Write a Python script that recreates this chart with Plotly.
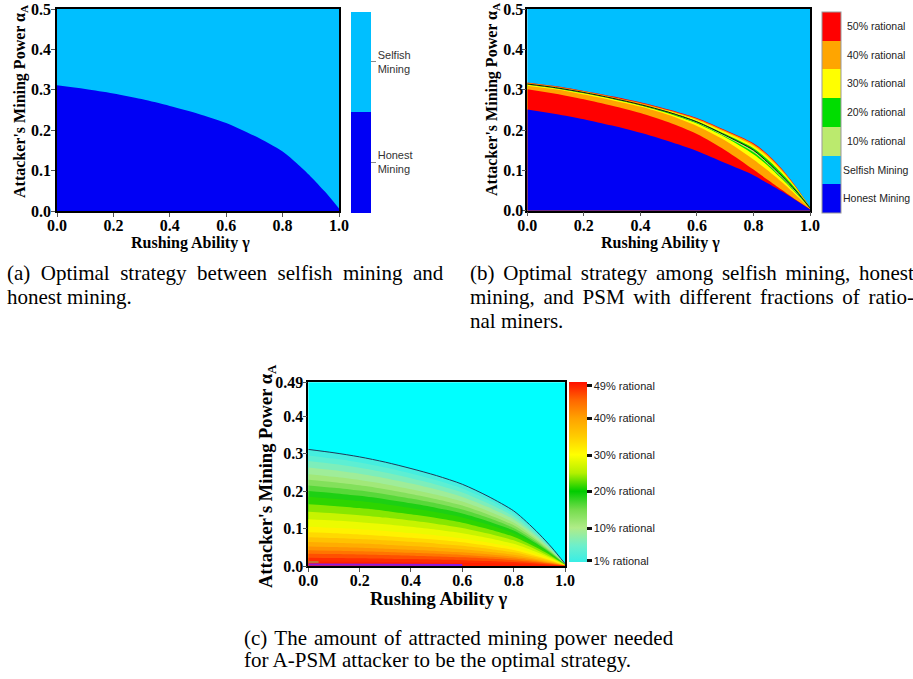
import plotly.graph_objects as go
from plotly.colors import sample_colorscale

W, H = 913, 679

# ---------------- data ----------------
gamma = [0.0, 0.1, 0.2, 0.3, 0.4, 0.5, 0.6, 0.7, 0.8, 0.85, 0.9, 0.95, 1.0]
# boundary selfish vs honest (panel a, also black line in c)
sm_boundary = [0.311, 0.302, 0.291, 0.277, 0.260, 0.241, 0.218, 0.186, 0.147, 0.118, 0.085, 0.048, 0.006]

# panel b: upper edges of each coloured region
b_honest_top = [0.251, 0.240, 0.227, 0.211, 0.193, 0.172, 0.148, 0.118, 0.088, 0.068, 0.048, 0.026, 0.003]
b_red_top    = [0.301, 0.290, 0.276, 0.260, 0.242, 0.219, 0.190, 0.150, 0.102, 0.077, 0.052, 0.027, 0.004]
b_orange_top = [0.310, 0.301, 0.288, 0.274, 0.258, 0.237, 0.210, 0.174, 0.127, 0.100, 0.071, 0.039, 0.005]
b_yellow_top = [0.312, 0.303, 0.291, 0.277, 0.261, 0.241, 0.216, 0.182, 0.140, 0.112, 0.079, 0.044, 0.006]
b_green_top  = [0.313, 0.304, 0.292, 0.278, 0.262, 0.243, 0.218, 0.184, 0.145, 0.116, 0.082, 0.046, 0.0065]
b_line       = [0.314, 0.305, 0.293, 0.279, 0.263, 0.244, 0.220, 0.187, 0.150, 0.120, 0.086, 0.049, 0.007]
b_up_green   = [0.314, 0.305, 0.293, 0.279, 0.263, 0.245, 0.222, 0.190, 0.155, 0.127, 0.093, 0.054, 0.008]
b_up_yellow  = [0.315, 0.306, 0.294, 0.280, 0.264, 0.247, 0.225, 0.195, 0.161, 0.134, 0.099, 0.057, 0.008]
b_up_orange  = [0.317, 0.308, 0.296, 0.282, 0.267, 0.249, 0.228, 0.198, 0.165, 0.138, 0.102, 0.059, 0.008]
b_up_red     = [0.318, 0.309, 0.297, 0.284, 0.269, 0.251, 0.230, 0.200, 0.167, 0.140, 0.104, 0.060, 0.008]
b_labels = ["50% rational", "40% rational", "30% rational", "20% rational",
            "10% rational", "Selfish Mining", "Honest Mining"]

# panel c: rational level (%) and the attacker power at gamma = 0 where it is reached
c_levels = [1, 2.5, 5, 7.5, 10, 12.5, 15, 17.5, 20, 22.5, 25, 27.5, 30, 32.5, 35, 37.5, 40, 42.5, 45, 47.5, 49]
c_alpha0 = [0.311, 0.295, 0.280, 0.263, 0.245, 0.230, 0.215, 0.200, 0.185, 0.165, 0.145, 0.125,
            0.105, 0.090, 0.077, 0.064, 0.052, 0.042, 0.033, 0.022, 0.012]
c_tick_levels = [1, 10, 20, 30, 40, 49]
c_tick_text = ["1% rational", "10% rational", "20% rational", "30% rational", "40% rational", "49% rational"]
c_purple_gamma = [0.0, 0.6]
c_purple_alpha = [0.004, 0.003]
c_brown_gamma = [0.0, 0.04]
c_brown_alpha = [0.011, 0.011]

# ---------------- styles ----------------
SELFISH = "#00BFFF"
HONEST = "#0000F5"
RED, ORANGE, YELLOW, GREEN, LGREEN = "#FF0000", "#FFA500", "#FFFF00", "#00DD00", "#BBEA6E"
CYAN = "#00FFFF"
CMIN, CMAX = 0.62, 49.93
c_stops = [(0.62, "#38EEE6"), (5, "#6CEFCC"), (10, "#B0EC88"), (15, "#74DC4C"), (20, "#00CC00"),
           (25, "#B4F000"), (30, "#FFFF00"), (35, "#FFCC00"), (40, "#FFA200"), (45, "#FF6600"),
           (49.93, "#FF1000")]
c_scale = [[(v - CMIN) / (CMAX - CMIN), c] for v, c in c_stops]


def px(x):
    return x / W


def py(y):
    return 1 - y / H


fig = go.Figure()


def band(xa, ya, y, color):
    fig.add_trace(go.Scatter(x=gamma, y=y, xaxis=xa, yaxis=ya, mode="lines",
                             line=dict(width=0, color=color, shape="spline", smoothing=0.8),
                             fill="tozeroy", fillcolor=color, hoverinfo="skip", showlegend=False))


# panel a
band("x", "y", sm_boundary, HONEST)
fig.add_trace(go.Scatter(x=[None, None], y=[None, None], xaxis="x", yaxis="y", mode="markers",
                         showlegend=False, hoverinfo="skip",
                         marker=dict(color=[0, 2], cmin=0, cmax=2, showscale=True,
                                     colorscale=[[0, HONEST], [0.5, HONEST], [0.5, SELFISH], [1, SELFISH]],
                                     colorbar=dict(x=px(351), xanchor="left", y=py(11.7), yanchor="top",
                                                   len=201, lenmode="pixels", thickness=20,
                                                   thicknessmode="pixels", xpad=0, ypad=0,
                                                   outlinewidth=0, tickvals=[0.5, 1.5],
                                                   ticktext=["Honest<br>Mining", "Selfish<br>Mining"],
                                                   ticks="outside", ticklen=5, tickcolor="#888",
                                                   tickfont=dict(family="Liberation Sans", size=11,
                                                                 color="#333")))))

# panel b (painted from the top curve downwards)
for y, col in [(b_up_red, RED), (b_up_orange, ORANGE), (b_up_yellow, YELLOW), (b_up_green, GREEN),
               (b_line, LGREEN), (b_green_top, GREEN), (b_yellow_top, YELLOW),
               (b_orange_top, ORANGE), (b_red_top, RED), (b_honest_top, HONEST)]:
    band("x2", "y2", y, col)
fig.add_trace(go.Scatter(x=gamma, y=b_line, xaxis="x2", yaxis="y2", mode="lines",
                         line=dict(width=1, color="#111", shape="spline", smoothing=0.8),
                         hoverinfo="skip", showlegend=False))
b_scale_cols = [HONEST, SELFISH, LGREEN, GREEN, YELLOW, ORANGE, RED]
b_scale = []
for i, c in enumerate(b_scale_cols):
    b_scale += [[i / 7, c], [(i + 1) / 7, c]]
fig.add_trace(go.Scatter(x=[None, None], y=[None, None], xaxis="x2", yaxis="y2", mode="markers",
                         showlegend=False, hoverinfo="skip",
                         marker=dict(color=[0, 7], cmin=0, cmax=7, showscale=True, colorscale=b_scale,
                                     colorbar=dict(x=px(822.3), xanchor="left", y=py(11.7), yanchor="top",
                                                   len=201, lenmode="pixels", thickness=19,
                                                   thicknessmode="pixels", xpad=0, ypad=0,
                                                   outlinewidth=1, outlinecolor="#999",
                                                   showticklabels=False, ticks=""))))

# panel c
shape = [b / sm_boundary[0] for b in sm_boundary]
for k, a0 in enumerate(c_alpha0):
    lvl = (c_levels[k] + c_levels[k + 1]) / 2 if k + 1 < len(c_levels) else c_levels[k]
    col = sample_colorscale(c_scale, [(lvl - CMIN) / (CMAX - CMIN)])[0]
    band("x3", "y3", [a0 * s for s in shape], col)
fig.add_trace(go.Scatter(x=gamma, y=sm_boundary, xaxis="x3", yaxis="y3", mode="lines",
                         line=dict(width=1, color="#1E3A5A", shape="spline", smoothing=0.8),
                         hoverinfo="skip", showlegend=False))
fig.add_trace(go.Scatter(x=c_purple_gamma, y=c_purple_alpha, xaxis="x3", yaxis="y3", mode="lines",
                         line=dict(width=2, color="#8A1AE0"), hoverinfo="skip", showlegend=False))
fig.add_trace(go.Scatter(x=c_brown_gamma, y=c_brown_alpha, xaxis="x3", yaxis="y3", mode="lines",
                         line=dict(width=1.5, color="#B08A40"), hoverinfo="skip", showlegend=False))
fig.add_trace(go.Scatter(x=[None, None], y=[None, None], xaxis="x3", yaxis="y3", mode="markers",
                         showlegend=False, hoverinfo="skip",
                         marker=dict(color=[CMIN, CMAX], cmin=CMIN, cmax=CMAX, showscale=True,
                                     colorscale=c_scale,
                                     colorbar=dict(x=px(569), xanchor="left", y=py(382.3), yanchor="top",
                                                   len=180.4, lenmode="pixels", thickness=17.5,
                                                   thicknessmode="pixels", xpad=0, ypad=0,
                                                   outlinewidth=0, tickvals=c_tick_levels,
                                                   ticktext=c_tick_text, ticks="outside", ticklen=5,
                                                   tickwidth=2.5, tickcolor="#111",
                                                   tickfont=dict(family="Liberation Sans", size=11,
                                                                 color="#222")))))

# ---------------- axes ----------------
tickfont = dict(family="Liberation Serif", size=16, color="black", weight="bold")
ax_common = dict(showline=True, linecolor="black", linewidth=1.5, mirror=True, ticks="outside",
                 ticklen=4, tickcolor="#555", showgrid=False, zeroline=False, tickfont=tickfont,
                 fixedrange=True, automargin=False)
xt = dict(range=[0, 1], tickvals=[0, 0.2, 0.4, 0.6, 0.8, 1.0], tickformat=".1f", ticklabelstandoff=-5)
fig.update_layout(
    xaxis=dict(domain=[px(57), px(339)], anchor="y", **xt, **ax_common),
    yaxis=dict(domain=[py(211), py(9)], anchor="x", range=[0, 0.5],
               tickvals=[0, 0.1, 0.2, 0.3, 0.4, 0.5], tickformat=".1f", ticklabelstandoff=-3,
               **ax_common),
    xaxis2=dict(domain=[px(527.3), px(810)], anchor="y2", **xt, **ax_common),
    yaxis2=dict(domain=[py(210.7), py(9)], anchor="x2", range=[0, 0.5],
                tickvals=[0, 0.1, 0.2, 0.3, 0.4, 0.5], tickformat=".1f", ticklabelstandoff=-5,
                **ax_common),
    xaxis3=dict(domain=[px(308.3), px(565)], anchor="y3", **xt, **ax_common),
    yaxis3=dict(domain=[py(566), py(382.3)], anchor="x3", range=[0, 0.49],
                tickvals=[0, 0.1, 0.2, 0.3, 0.4, 0.49],
                ticktext=["0.0", "0.1", "0.2", "0.3", "0.4", "0.49"], ticklabelstandoff=-4,
                **ax_common),
)

# subplot backgrounds
for xr, yr, col in [("x", "y", SELFISH), ("x2", "y2", SELFISH), ("x3", "y3", CYAN)]:
    fig.add_shape(type="rect", xref=f"{xr} domain", yref=f"{yr} domain", x0=0, x1=1, y0=0, y1=1,
                  fillcolor=col, line_width=0, layer="below")

# ---------------- text ----------------
ann = []


def add_text(x, y, text, font, **kw):
    d = dict(x=px(x), y=py(y), xref="paper", yref="paper", text=text, font=font, showarrow=False,
             xanchor="center", yanchor="middle")
    d.update(kw)
    ann.append(d)


title_font = dict(family="Liberation Serif", size=16, color="black")
ytitle = "<b>Attacker's Mining Power α<sub>A</sub></b>"
xtitle = "<b>Rushing Ability γ</b>"
add_text(20, 102, ytitle, title_font, textangle=-90)
add_text(190, 243, xtitle, title_font)
add_text(492, 100, ytitle, title_font, textangle=-90)
add_text(660, 243, xtitle, title_font)
title_font_c = dict(family="Liberation Serif", size=18.5, color="black")
add_text(268, 476, ytitle, title_font_c, textangle=-90)
add_text(439, 598.5, xtitle, title_font_c)

# panel b colour bar labels
for k, lab in enumerate(b_labels):
    add_text(876, 11.7 + (k + 0.5) * 201 / 7, lab,
             dict(family="Liberation Sans", size=10.5, color="#222"))

# captions (justified lines are widened with extra space characters)
NB, SIX, HAIR = "\u00a0", "\u2006", "\u200a"
cap_font = dict(family="Liberation Serif", size=21, color="black")
captions = [
    (5, 273, "(a) Optimal strategy between selfish mining and", NB),
    (5, 297, "honest mining.", ""),
    (468, 273, "(b) Optimal strategy among selfish mining, honest", SIX),
    (468, 297, "mining, and PSM with different fractions of ratio-", SIX),
    (468, 321, "nal miners.", ""),
    (242, 638, "(c) The amount of attracted mining power needed", HAIR),
    (242, 660, "for A-PSM attacker to be the optimal strategy.", ""),
]
for x, y, t, extra in captions:
    add_text(x, y, (" " + extra).join(t.split(" ")), cap_font, xanchor="left", align="left")

fig.update_layout(annotations=ann, width=W, height=H,
                  margin=dict(l=0, r=0, t=0, b=0, autoexpand=False),
                  paper_bgcolor="white", plot_bgcolor="white", showlegend=False)

fig.write_html("out.html", include_plotlyjs=True, config={"displayModeBar": False},
               post_script="document.body.style.margin='0px';")
